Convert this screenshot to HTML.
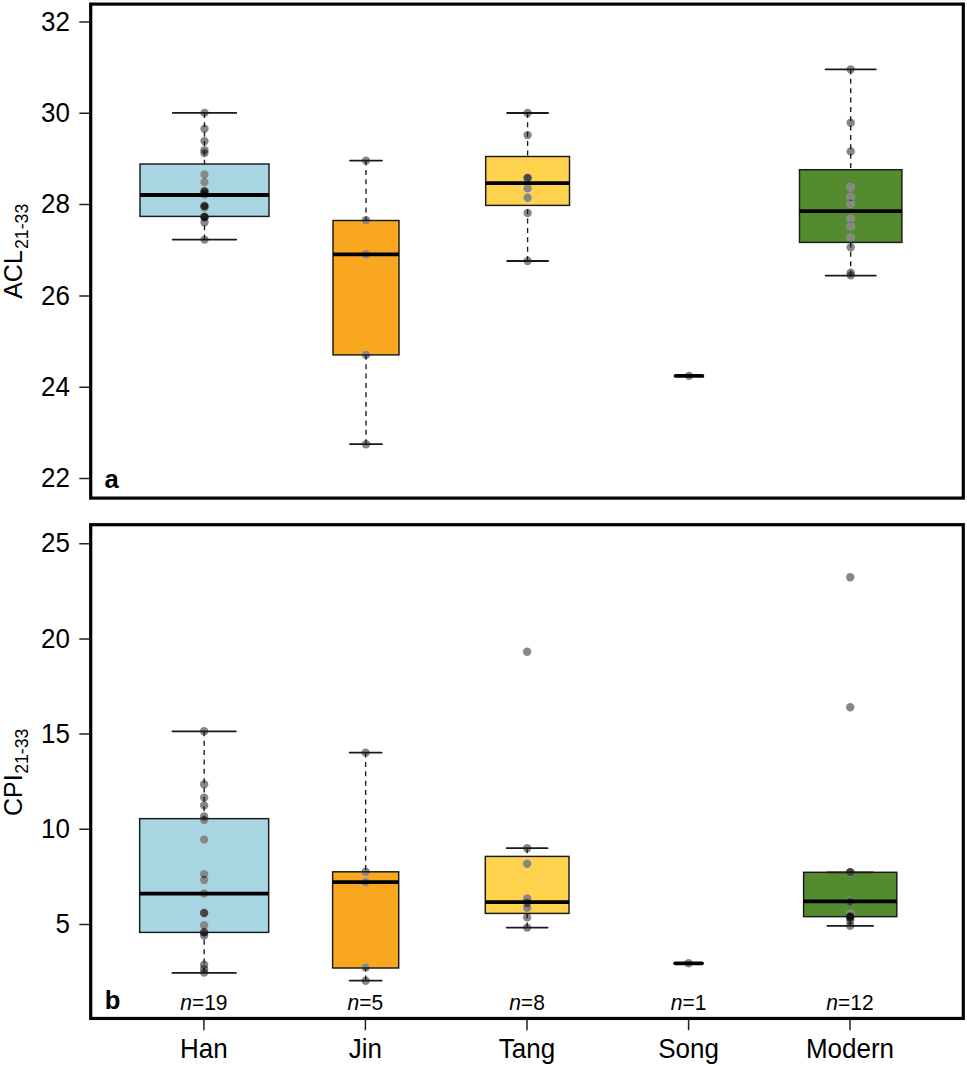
<!DOCTYPE html>
<html><head><meta charset="utf-8"><title>Boxplots</title>
<style>html,body{margin:0;padding:0;background:#fff;}body{width:967px;height:1066px;overflow:hidden;font-family:"Liberation Sans",sans-serif;}</style>
</head><body>
<svg width="967" height="1066" viewBox="0 0 967 1066" style="display:block"><rect width="967" height="1066" fill="#fff"/><rect x="88" width="879" height="1" fill="#f5f5f5"/><rect x="140.00" y="164.00" width="129.00" height="52.40" fill="#A7D5E1"/><rect x="333.00" y="220.50" width="66.00" height="134.40" fill="#F8A71F"/><rect x="485.70" y="156.50" width="83.80" height="48.90" fill="#FFD24D"/><rect x="799.50" y="169.70" width="102.40" height="72.70" fill="#558B2F"/><g fill="#fff"><circle cx="204.50" cy="112.90" r="4.2"/><circle cx="204.50" cy="128.70" r="4.2"/><circle cx="204.50" cy="141.10" r="4.2"/><circle cx="204.50" cy="150.10" r="4.2"/><circle cx="204.50" cy="153.10" r="4.2"/><circle cx="204.50" cy="174.40" r="4.2"/><circle cx="204.50" cy="182.10" r="4.2"/><circle cx="204.50" cy="191.00" r="4.2"/><circle cx="204.50" cy="191.40" r="4.2"/><circle cx="204.50" cy="192.80" r="4.2"/><circle cx="204.50" cy="194.60" r="4.2"/><circle cx="204.50" cy="205.90" r="4.2"/><circle cx="204.50" cy="205.90" r="4.2"/><circle cx="204.50" cy="207.50" r="4.2"/><circle cx="204.50" cy="216.60" r="4.2"/><circle cx="204.50" cy="216.90" r="4.2"/><circle cx="204.50" cy="217.30" r="4.2"/><circle cx="204.50" cy="222.20" r="4.2"/><circle cx="204.50" cy="239.60" r="4.2"/><circle cx="366.00" cy="160.60" r="4.2"/><circle cx="366.00" cy="220.30" r="4.2"/><circle cx="366.00" cy="254.30" r="4.2"/><circle cx="366.00" cy="354.90" r="4.2"/><circle cx="366.00" cy="444.20" r="4.2"/><circle cx="527.60" cy="113.00" r="4.2"/><circle cx="527.60" cy="135.10" r="4.2"/><circle cx="527.60" cy="177.90" r="4.2"/><circle cx="527.60" cy="177.90" r="4.2"/><circle cx="527.60" cy="188.40" r="4.2"/><circle cx="527.60" cy="197.70" r="4.2"/><circle cx="527.60" cy="213.00" r="4.2"/><circle cx="527.60" cy="261.00" r="4.2"/><circle cx="689.00" cy="375.90" r="4.2"/><circle cx="850.70" cy="69.40" r="4.2"/><circle cx="850.70" cy="122.70" r="4.2"/><circle cx="850.70" cy="151.50" r="4.2"/><circle cx="850.70" cy="187.30" r="4.2"/><circle cx="850.70" cy="196.90" r="4.2"/><circle cx="850.70" cy="203.70" r="4.2"/><circle cx="850.70" cy="218.90" r="4.2"/><circle cx="850.70" cy="226.40" r="4.2"/><circle cx="850.70" cy="237.60" r="4.2"/><circle cx="850.70" cy="247.20" r="4.2"/><circle cx="850.70" cy="272.70" r="4.2"/><circle cx="850.70" cy="275.40" r="4.2"/></g><g fill="#000" fill-opacity="0.47"><circle cx="204.50" cy="112.90" r="4.2"/><circle cx="204.50" cy="128.70" r="4.2"/><circle cx="204.50" cy="141.10" r="4.2"/><circle cx="204.50" cy="150.10" r="4.2"/><circle cx="204.50" cy="153.10" r="4.2"/><circle cx="204.50" cy="174.40" r="4.2"/><circle cx="204.50" cy="182.10" r="4.2"/><circle cx="204.50" cy="191.00" r="4.2"/><circle cx="204.50" cy="191.40" r="4.2"/><circle cx="204.50" cy="192.80" r="4.2"/><circle cx="204.50" cy="194.60" r="4.2"/><circle cx="204.50" cy="205.90" r="4.2"/><circle cx="204.50" cy="205.90" r="4.2"/><circle cx="204.50" cy="207.50" r="4.2"/><circle cx="204.50" cy="216.60" r="4.2"/><circle cx="204.50" cy="216.90" r="4.2"/><circle cx="204.50" cy="217.30" r="4.2"/><circle cx="204.50" cy="222.20" r="4.2"/><circle cx="204.50" cy="239.60" r="4.2"/><circle cx="366.00" cy="160.60" r="4.2"/><circle cx="366.00" cy="220.30" r="4.2"/><circle cx="366.00" cy="254.30" r="4.2"/><circle cx="366.00" cy="354.90" r="4.2"/><circle cx="366.00" cy="444.20" r="4.2"/><circle cx="527.60" cy="113.00" r="4.2"/><circle cx="527.60" cy="135.10" r="4.2"/><circle cx="527.60" cy="177.90" r="4.2"/><circle cx="527.60" cy="177.90" r="4.2"/><circle cx="527.60" cy="188.40" r="4.2"/><circle cx="527.60" cy="197.70" r="4.2"/><circle cx="527.60" cy="213.00" r="4.2"/><circle cx="527.60" cy="261.00" r="4.2"/><circle cx="689.00" cy="375.90" r="4.2"/><circle cx="850.70" cy="69.40" r="4.2"/><circle cx="850.70" cy="122.70" r="4.2"/><circle cx="850.70" cy="151.50" r="4.2"/><circle cx="850.70" cy="187.30" r="4.2"/><circle cx="850.70" cy="196.90" r="4.2"/><circle cx="850.70" cy="203.70" r="4.2"/><circle cx="850.70" cy="218.90" r="4.2"/><circle cx="850.70" cy="226.40" r="4.2"/><circle cx="850.70" cy="237.60" r="4.2"/><circle cx="850.70" cy="247.20" r="4.2"/><circle cx="850.70" cy="272.70" r="4.2"/><circle cx="850.70" cy="275.40" r="4.2"/></g><path d="M204.50 112.90V164.00" stroke="#1a1a1a" stroke-width="1.35" stroke-dasharray="5.0 4.37" fill="none"/><path d="M204.50 239.60V216.40" stroke="#1a1a1a" stroke-width="1.35" stroke-dasharray="5.0 4.37" fill="none"/><path d="M172.75 112.90H236.25M172.75 239.60H236.25" stroke="#1a1a1a" stroke-width="1.8" stroke-linecap="round" fill="none"/><rect x="140.00" y="164.00" width="129.00" height="52.40" fill="none" stroke="#1a1a1a" stroke-width="1.45"/><path d="M140.00 195.00H269.00" stroke="#000" stroke-width="3.8" stroke-linecap="butt" fill="none"/><path d="M366.00 160.60V220.50" stroke="#1a1a1a" stroke-width="1.35" stroke-dasharray="5.0 4.37" fill="none"/><path d="M366.00 444.20V354.90" stroke="#1a1a1a" stroke-width="1.35" stroke-dasharray="5.0 4.37" fill="none"/><path d="M350.00 160.60H382.00M350.00 444.20H382.00" stroke="#1a1a1a" stroke-width="1.8" stroke-linecap="round" fill="none"/><rect x="333.00" y="220.50" width="66.00" height="134.40" fill="none" stroke="#1a1a1a" stroke-width="1.45"/><path d="M333.00 254.30H399.00" stroke="#000" stroke-width="3.8" stroke-linecap="butt" fill="none"/><path d="M527.60 113.00V156.50" stroke="#1a1a1a" stroke-width="1.35" stroke-dasharray="5.0 4.37" fill="none"/><path d="M527.60 261.00V205.40" stroke="#1a1a1a" stroke-width="1.35" stroke-dasharray="5.0 4.37" fill="none"/><path d="M507.15 113.00H548.05M507.15 261.00H548.05" stroke="#1a1a1a" stroke-width="1.8" stroke-linecap="round" fill="none"/><rect x="485.70" y="156.50" width="83.80" height="48.90" fill="none" stroke="#1a1a1a" stroke-width="1.45"/><path d="M485.70 183.10H569.50" stroke="#000" stroke-width="3.8" stroke-linecap="butt" fill="none"/><path d="M682.00 375.90H696.00M682.00 375.90H696.00" stroke="#1a1a1a" stroke-width="1.8" stroke-linecap="round" fill="none"/><path d="M675.60 375.90H702.40" stroke="#000" stroke-width="3.8" stroke-linecap="round" fill="none"/><path d="M850.70 69.40V169.70" stroke="#1a1a1a" stroke-width="1.35" stroke-dasharray="5.0 4.37" fill="none"/><path d="M850.70 275.60V242.40" stroke="#1a1a1a" stroke-width="1.35" stroke-dasharray="5.0 4.37" fill="none"/><path d="M825.60 69.40H875.80M825.60 275.60H875.80" stroke="#1a1a1a" stroke-width="1.8" stroke-linecap="round" fill="none"/><rect x="799.50" y="169.70" width="102.40" height="72.70" fill="none" stroke="#1a1a1a" stroke-width="1.45"/><path d="M799.50 211.10H901.90" stroke="#000" stroke-width="3.8" stroke-linecap="butt" fill="none"/><rect x="139.65" y="818.65" width="129.00" height="113.75" fill="#A7D5E1"/><rect x="332.60" y="871.80" width="66.10" height="96.20" fill="#F8A71F"/><rect x="485.30" y="856.40" width="83.70" height="57.00" fill="#FFD24D"/><rect x="803.60" y="872.30" width="93.20" height="44.35" fill="#558B2F"/><g fill="#fff"><circle cx="204.15" cy="731.20" r="4.2"/><circle cx="204.15" cy="784.20" r="4.2"/><circle cx="204.15" cy="797.60" r="4.2"/><circle cx="204.15" cy="805.40" r="4.2"/><circle cx="204.15" cy="816.50" r="4.2"/><circle cx="204.15" cy="820.10" r="4.2"/><circle cx="204.15" cy="839.60" r="4.2"/><circle cx="204.15" cy="874.10" r="4.2"/><circle cx="204.15" cy="880.00" r="4.2"/><circle cx="204.15" cy="893.50" r="4.2"/><circle cx="204.15" cy="913.00" r="4.2"/><circle cx="204.15" cy="913.00" r="4.2"/><circle cx="204.15" cy="925.20" r="4.2"/><circle cx="204.15" cy="932.40" r="4.2"/><circle cx="204.15" cy="932.40" r="4.2"/><circle cx="204.15" cy="935.60" r="4.2"/><circle cx="204.15" cy="964.80" r="4.2"/><circle cx="204.15" cy="969.00" r="4.2"/><circle cx="204.15" cy="972.60" r="4.2"/><circle cx="365.65" cy="752.60" r="4.2"/><circle cx="365.65" cy="871.80" r="4.2"/><circle cx="365.65" cy="882.10" r="4.2"/><circle cx="365.65" cy="967.60" r="4.2"/><circle cx="365.65" cy="980.70" r="4.2"/><circle cx="527.15" cy="651.80" r="4.2"/><circle cx="527.15" cy="848.20" r="4.2"/><circle cx="527.15" cy="863.80" r="4.2"/><circle cx="527.15" cy="898.50" r="4.2"/><circle cx="527.15" cy="903.00" r="4.2"/><circle cx="527.15" cy="907.90" r="4.2"/><circle cx="527.15" cy="917.40" r="4.2"/><circle cx="527.15" cy="927.60" r="4.2"/><circle cx="688.60" cy="963.30" r="4.2"/><circle cx="850.20" cy="577.20" r="4.2"/><circle cx="850.20" cy="707.30" r="4.2"/><circle cx="850.20" cy="872.30" r="4.2"/><circle cx="850.20" cy="872.30" r="4.2"/><circle cx="850.20" cy="901.70" r="4.2"/><circle cx="850.20" cy="901.70" r="4.2"/><circle cx="850.20" cy="914.00" r="4.2"/><circle cx="850.20" cy="916.40" r="4.2"/><circle cx="850.20" cy="917.00" r="4.2"/><circle cx="850.20" cy="917.50" r="4.2"/><circle cx="850.20" cy="920.80" r="4.2"/><circle cx="850.20" cy="925.70" r="4.2"/></g><g fill="#000" fill-opacity="0.47"><circle cx="204.15" cy="731.20" r="4.2"/><circle cx="204.15" cy="784.20" r="4.2"/><circle cx="204.15" cy="797.60" r="4.2"/><circle cx="204.15" cy="805.40" r="4.2"/><circle cx="204.15" cy="816.50" r="4.2"/><circle cx="204.15" cy="820.10" r="4.2"/><circle cx="204.15" cy="839.60" r="4.2"/><circle cx="204.15" cy="874.10" r="4.2"/><circle cx="204.15" cy="880.00" r="4.2"/><circle cx="204.15" cy="893.50" r="4.2"/><circle cx="204.15" cy="913.00" r="4.2"/><circle cx="204.15" cy="913.00" r="4.2"/><circle cx="204.15" cy="925.20" r="4.2"/><circle cx="204.15" cy="932.40" r="4.2"/><circle cx="204.15" cy="932.40" r="4.2"/><circle cx="204.15" cy="935.60" r="4.2"/><circle cx="204.15" cy="964.80" r="4.2"/><circle cx="204.15" cy="969.00" r="4.2"/><circle cx="204.15" cy="972.60" r="4.2"/><circle cx="365.65" cy="752.60" r="4.2"/><circle cx="365.65" cy="871.80" r="4.2"/><circle cx="365.65" cy="882.10" r="4.2"/><circle cx="365.65" cy="967.60" r="4.2"/><circle cx="365.65" cy="980.70" r="4.2"/><circle cx="527.15" cy="651.80" r="4.2"/><circle cx="527.15" cy="848.20" r="4.2"/><circle cx="527.15" cy="863.80" r="4.2"/><circle cx="527.15" cy="898.50" r="4.2"/><circle cx="527.15" cy="903.00" r="4.2"/><circle cx="527.15" cy="907.90" r="4.2"/><circle cx="527.15" cy="917.40" r="4.2"/><circle cx="527.15" cy="927.60" r="4.2"/><circle cx="688.60" cy="963.30" r="4.2"/><circle cx="850.20" cy="577.20" r="4.2"/><circle cx="850.20" cy="707.30" r="4.2"/><circle cx="850.20" cy="872.30" r="4.2"/><circle cx="850.20" cy="872.30" r="4.2"/><circle cx="850.20" cy="901.70" r="4.2"/><circle cx="850.20" cy="901.70" r="4.2"/><circle cx="850.20" cy="914.00" r="4.2"/><circle cx="850.20" cy="916.40" r="4.2"/><circle cx="850.20" cy="917.00" r="4.2"/><circle cx="850.20" cy="917.50" r="4.2"/><circle cx="850.20" cy="920.80" r="4.2"/><circle cx="850.20" cy="925.70" r="4.2"/></g><path d="M204.15 731.30V818.65" stroke="#1a1a1a" stroke-width="1.35" stroke-dasharray="5.0 4.37" fill="none"/><path d="M204.15 972.90V932.40" stroke="#1a1a1a" stroke-width="1.35" stroke-dasharray="5.0 4.37" fill="none"/><path d="M172.40 731.30H235.90M172.40 972.90H235.90" stroke="#1a1a1a" stroke-width="1.8" stroke-linecap="round" fill="none"/><rect x="139.65" y="818.65" width="129.00" height="113.75" fill="none" stroke="#1a1a1a" stroke-width="1.45"/><path d="M139.65 893.60H268.65" stroke="#000" stroke-width="3.8" stroke-linecap="butt" fill="none"/><path d="M365.65 752.60V871.80" stroke="#1a1a1a" stroke-width="1.35" stroke-dasharray="5.0 4.37" fill="none"/><path d="M365.65 980.60V968.00" stroke="#1a1a1a" stroke-width="1.35" stroke-dasharray="5.0 4.37" fill="none"/><path d="M349.62 752.60H381.67M349.62 980.60H381.67" stroke="#1a1a1a" stroke-width="1.8" stroke-linecap="round" fill="none"/><rect x="332.60" y="871.80" width="66.10" height="96.20" fill="none" stroke="#1a1a1a" stroke-width="1.45"/><path d="M332.60 882.10H398.70" stroke="#000" stroke-width="3.8" stroke-linecap="butt" fill="none"/><path d="M527.15 848.20V856.40" stroke="#1a1a1a" stroke-width="1.35" stroke-dasharray="5.0 4.37" fill="none"/><path d="M527.15 927.60V913.40" stroke="#1a1a1a" stroke-width="1.35" stroke-dasharray="5.0 4.37" fill="none"/><path d="M506.72 848.20H547.57M506.72 927.60H547.57" stroke="#1a1a1a" stroke-width="1.8" stroke-linecap="round" fill="none"/><rect x="485.30" y="856.40" width="83.70" height="57.00" fill="none" stroke="#1a1a1a" stroke-width="1.45"/><path d="M485.30 902.15H569.00" stroke="#000" stroke-width="3.8" stroke-linecap="butt" fill="none"/><path d="M681.60 963.30H695.60M681.60 963.30H695.60" stroke="#1a1a1a" stroke-width="1.8" stroke-linecap="round" fill="none"/><path d="M675.20 963.30H702.00" stroke="#000" stroke-width="3.8" stroke-linecap="round" fill="none"/><path d="M850.20 925.90V916.65" stroke="#1a1a1a" stroke-width="1.35" stroke-dasharray="5.0 4.37" fill="none"/><path d="M827.40 872.30H873.00M827.40 925.90H873.00" stroke="#1a1a1a" stroke-width="1.8" stroke-linecap="round" fill="none"/><rect x="803.60" y="872.30" width="93.20" height="44.35" fill="none" stroke="#1a1a1a" stroke-width="1.45"/><path d="M803.60 901.40H896.80" stroke="#000" stroke-width="3.8" stroke-linecap="butt" fill="none"/><rect x="90.7" y="4.1" width="872.6" height="494.0" fill="none" stroke="#000" stroke-width="3.2"/><rect x="90.7" y="524.7" width="872.6" height="493.75" fill="none" stroke="#000" stroke-width="3.2"/><path d="M79.3 21.90H89.5 M79.3 113.20H89.5 M79.3 204.60H89.5 M79.3 295.90H89.5 M79.3 387.30H89.5 M79.3 478.60H89.5 M79.3 543.70H89.5 M79.3 638.90H89.5 M79.3 734.10H89.5 M79.3 829.30H89.5 M79.3 924.50H89.5" stroke="#222" stroke-width="1.5" fill="none"/><text transform="translate(70.00 30.60) scale(1 1.035)" font-size="26" text-anchor="end" font-family="Liberation Sans, sans-serif">32</text><text transform="translate(70.00 121.90) scale(1 1.035)" font-size="26" text-anchor="end" font-family="Liberation Sans, sans-serif">30</text><text transform="translate(70.00 213.30) scale(1 1.035)" font-size="26" text-anchor="end" font-family="Liberation Sans, sans-serif">28</text><text transform="translate(70.00 304.60) scale(1 1.035)" font-size="26" text-anchor="end" font-family="Liberation Sans, sans-serif">26</text><text transform="translate(70.00 396.00) scale(1 1.035)" font-size="26" text-anchor="end" font-family="Liberation Sans, sans-serif">24</text><text transform="translate(70.00 487.30) scale(1 1.035)" font-size="26" text-anchor="end" font-family="Liberation Sans, sans-serif">22</text><text transform="translate(70.00 552.40) scale(1 1.035)" font-size="26" text-anchor="end" font-family="Liberation Sans, sans-serif">25</text><text transform="translate(70.00 647.60) scale(1 1.035)" font-size="26" text-anchor="end" font-family="Liberation Sans, sans-serif">20</text><text transform="translate(70.00 742.80) scale(1 1.035)" font-size="26" text-anchor="end" font-family="Liberation Sans, sans-serif">15</text><text transform="translate(70.00 838.00) scale(1 1.035)" font-size="26" text-anchor="end" font-family="Liberation Sans, sans-serif">10</text><text transform="translate(70.00 933.20) scale(1 1.035)" font-size="26" text-anchor="end" font-family="Liberation Sans, sans-serif">5</text><path d="M203.90 1019.7V1030.3 M365.40 1019.7V1030.3 M527.00 1019.7V1030.3 M688.60 1019.7V1030.3 M850.00 1019.7V1030.3" stroke="#222" stroke-width="1.5" fill="none"/><text transform="translate(203.90 1057.60) scale(1 1.04)" font-size="26" text-anchor="middle" font-family="Liberation Sans, sans-serif">Han</text><text transform="translate(365.40 1057.60) scale(1 1.04)" font-size="26" text-anchor="middle" font-family="Liberation Sans, sans-serif">Jin</text><text transform="translate(527.00 1057.60) scale(1 1.04)" font-size="26" text-anchor="middle" font-family="Liberation Sans, sans-serif">Tang</text><text transform="translate(688.60 1057.60) scale(1 1.04)" font-size="26" text-anchor="middle" font-family="Liberation Sans, sans-serif">Song</text><text transform="translate(850.00 1057.60) scale(1 1.04)" font-size="26" text-anchor="middle" font-family="Liberation Sans, sans-serif">Modern</text><text transform="translate(203.90 1010.20) scale(1 1.04)" font-size="21" text-anchor="middle" font-family="Liberation Sans, sans-serif"><tspan font-style="italic">n</tspan>=19</text><text transform="translate(365.40 1010.20) scale(1 1.04)" font-size="21" text-anchor="middle" font-family="Liberation Sans, sans-serif"><tspan font-style="italic">n</tspan>=5</text><text transform="translate(527.00 1010.20) scale(1 1.04)" font-size="21" text-anchor="middle" font-family="Liberation Sans, sans-serif"><tspan font-style="italic">n</tspan>=8</text><text transform="translate(688.60 1010.20) scale(1 1.04)" font-size="21" text-anchor="middle" font-family="Liberation Sans, sans-serif"><tspan font-style="italic">n</tspan>=1</text><text transform="translate(850.00 1010.20) scale(1 1.04)" font-size="21" text-anchor="middle" font-family="Liberation Sans, sans-serif"><tspan font-style="italic">n</tspan>=12</text><text transform="translate(104.60 487.80) scale(1 1.0)" font-size="25.6" font-family="Liberation Sans, sans-serif" font-weight="bold">a</text><text transform="translate(104.80 1008.90) scale(1 1.0)" font-size="25.6" font-family="Liberation Sans, sans-serif" font-weight="bold">b</text><text transform="translate(22.2 298.8) rotate(-90)" font-size="25" font-family="Liberation Sans, sans-serif">ACL<tspan font-size="17.7" dx="1.2" dy="5.8">21-33</tspan></text><text transform="translate(22.2 816) rotate(-90)" font-size="25" font-family="Liberation Sans, sans-serif">CPI<tspan font-size="17.7" dx="0.5" dy="5.8">21-33</tspan></text></svg>
</body></html>
